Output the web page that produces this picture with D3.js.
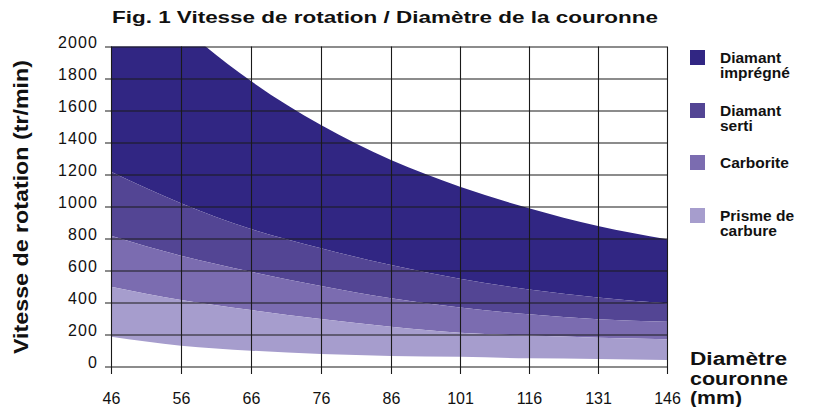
<!DOCTYPE html>
<html>
<head>
<meta charset="utf-8">
<script src="https://cdn.jsdelivr.net/npm/d3@7"></script>
<style>
  body { margin: 0; background: #fff; }
  text { font-family: "Liberation Sans", Arial, Helvetica, sans-serif; fill: #111; }
</style>
</head>
<body>
<svg id="chart" width="814" height="407"></svg>
<script>
// diamètre de la couronne (mm)
const diameters = [46, 56, 66, 76, 86, 101, 116, 131, 146];
const speedTicks = [0, 200, 400, 600, 800, 1000, 1200, 1400, 1600, 1800, 2000];

// limites de vitesse (tr/min)
const impregneMax = [2600, 2135, 1784, 1509, 1290, 1124, 989, 878, 795];
const sertiMax = [1217, 1020, 859, 739, 634, 549, 482, 432, 395];
const carboriteMax = [817, 692, 592, 503, 426, 368, 326, 295, 280];
const prismeMax = [499, 416, 353, 297, 249, 211, 193, 180, 170];
const prismeMin = [186, 130, 99, 78, 66, 61, 51, 47, 41];

const materials = ['Diamant imprégné', 'Diamant serti', 'Carborite', 'Prisme de carbure'];
const colors = ['#312683', '#534594', '#7b6cb0', '#a69dcd'];

const plotLeft = 111, plotRight = 667, plotTop = 46.5, plotBottom = 366.5;

const svg = d3.select('#chart');

// the x axis changes step at 86 (10 mm then 15 mm)
const x = d3.scaleLinear().domain([46, 86, 146]).range([plotLeft, 391, plotRight]);
const y = d3.scaleLinear().domain([0, 2000]).range([plotBottom, plotTop]);

svg.append('defs').append('clipPath').attr('id', 'plot')
  .append('rect')
  .attr('x', plotLeft).attr('y', plotTop)
  .attr('width', plotRight - plotLeft).attr('height', plotBottom - plotTop);

let bounds = [impregneMax, sertiMax, carboriteMax, prismeMax, prismeMin];

let bands = svg.append('g').attr('clip-path', 'url(#plot)');

materials.forEach((m, i) => {
  let upper = bounds[i];
  let lower = bounds[i + 1];
  let area = d3.area()
    .x((d, j) => x(diameters[j]))
    .y0((d, j) => y(lower[j]))
    .y1((d) => y(d))
    .curve(d3.curveMonotoneX);
  bands.append('path')
    .attr('d', area(upper))
    .attr('fill', colors[i]);
});

// grid + axes
let yAxis = svg.append('g')
  .attr('transform', `translate(105,0)`)
  .call(d3.axisLeft(y).tickValues(speedTicks).tickFormat(d3.format('d'))
    .tickSize(-(plotRight - 105)).tickPadding(7));
yAxis.select('.domain').remove();
yAxis.selectAll('line').attr('stroke', '#1a1a1a').attr('stroke-width', 1.1);
yAxis.selectAll('text')
  .attr('dy', null).attr('y', 1)
  .style('font-size', '16px').style('letter-spacing', '1.1px')
  .attr('fill', '#111');

let xAxis = svg.append('g')
  .attr('transform', `translate(0,374)`)
  .call(d3.axisBottom(x).tickValues(diameters).tickSize(-(374 - plotTop)).tickFormat(d3.format('d')));
xAxis.select('.domain').remove();
xAxis.selectAll('line').attr('stroke', '#1a1a1a').attr('stroke-width', 1.1);
xAxis.selectAll('text')
  .attr('dy', null).attr('y', 30)
  .style('font-size', '16px')
  .attr('fill', '#111');

// titles
svg.append('text')
  .attr('x', 112).attr('y', 23)
  .attr('textLength', 546).attr('lengthAdjust', 'spacingAndGlyphs')
  .style('font-size', '17px').style('font-weight', 'bold')
  .text('Fig. 1 Vitesse de rotation / Diamètre de la couronne');

svg.append('text')
  .attr('transform', 'translate(28,207) rotate(-90)')
  .attr('text-anchor', 'middle')
  .attr('textLength', 294).attr('lengthAdjust', 'spacingAndGlyphs')
  .style('font-size', '20px').style('font-weight', 'bold')
  .text('Vitesse de rotation (tr/min)');

let xTitleLines = ['Diamètre', 'couronne', '(mm)'];
let xTitleWidths = [97, 98, 52];
xTitleLines.forEach((t, i) => {
  svg.append('text')
    .attr('x', 690).attr('y', 365 + i * 19.5)
    .attr('textLength', xTitleWidths[i]).attr('lengthAdjust', 'spacingAndGlyphs')
    .style('font-size', '17.5px').style('font-weight', 'bold')
    .text(t);
});

// legend
let legendLines = [['Diamant', 'imprégné'], ['Diamant', 'serti'], ['Carborite'], ['Prisme de', 'carbure']];
let legendTop = [50, 103, 155, 208];

let legend = svg.append('g');
legendLines.forEach((lines, i) => {
  legend.append('rect')
    .attr('x', 690).attr('y', legendTop[i])
    .attr('width', 15).attr('height', 15)
    .attr('fill', colors[i]);
  lines.forEach((l, k) => {
    legend.append('text')
      .attr('x', 720).attr('y', legendTop[i] + 12.5 + k * 15.5)
      .style('font-size', '15.5px').style('font-weight', 'bold')
      .text(l);
  });
});
</script>
</body>
</html>
